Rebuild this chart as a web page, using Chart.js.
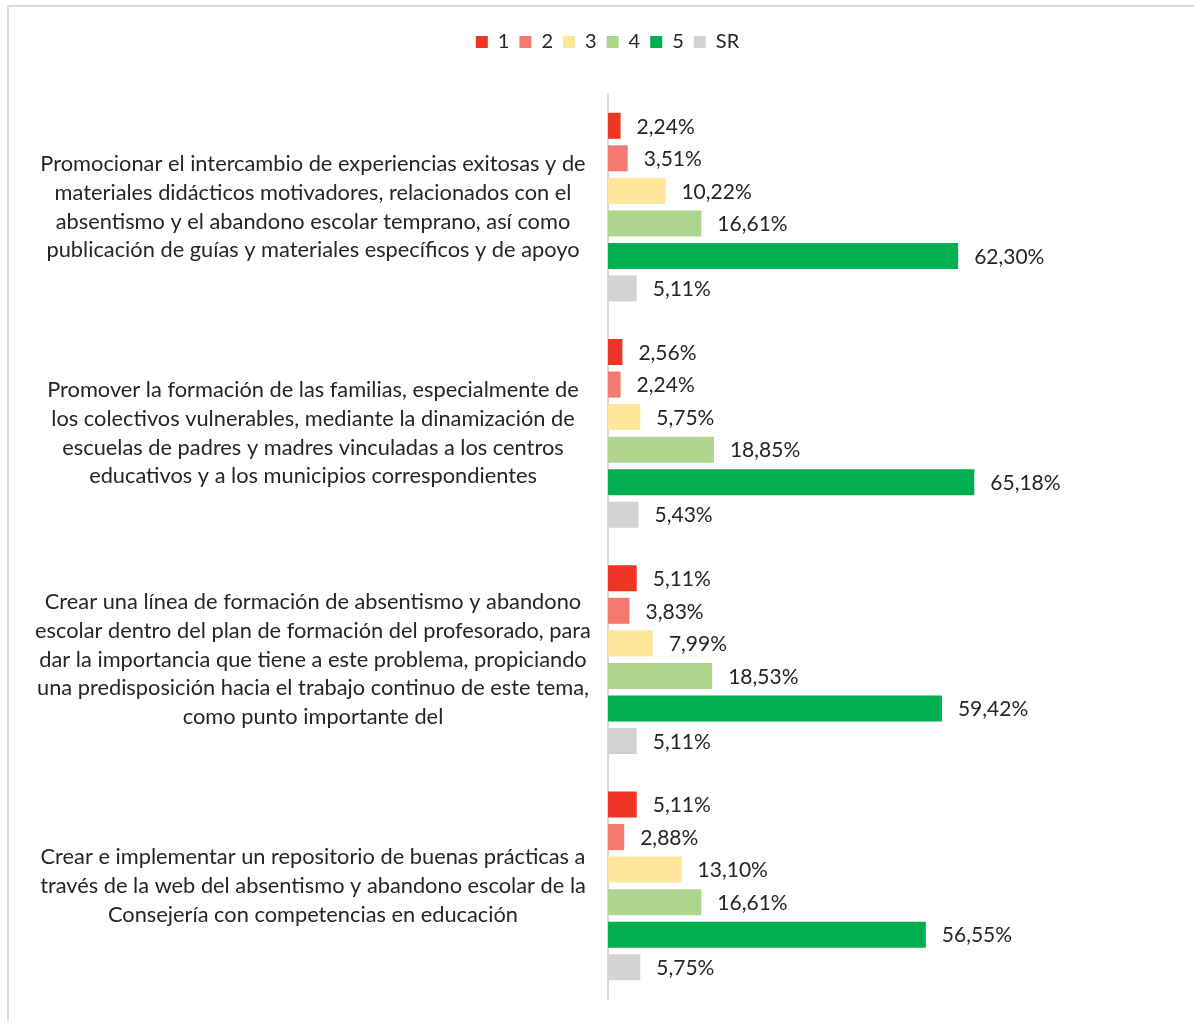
<!DOCTYPE html>
<html>
<head>
<meta charset="utf-8">
<script src="https://cdn.jsdelivr.net/npm/chart.js@4/dist/chart.umd.min.js"></script>
<style>
    html, body { margin: 0; padding: 0; background: #fff; }
    #wrap { position: relative; width: 1194px; height: 1021px; }
    #marco { position: absolute; left: 7px; top: 5px; right: -10px; bottom: -10px; border-left: 2px solid #d9d9d9; border-top: 2px solid #d9d9d9; }
    canvas { position: absolute; left: 0; top: 0; }
</style>
</head>
<body>
<div id="wrap">
    <div id="marco"></div>
    <canvas id="grafico" width="1194" height="1021"></canvas>
</div>
<script>
// --- Datos ---
const categorias = [
    ["Promocionar el intercambio de experiencias exitosas y de", "materiales didácticos motivadores, relacionados con el", "absentismo y el abandono escolar temprano, así como", "publicación de guías y materiales específicos y de apoyo"],
    ["Promover la formación de las familias, especialmente de", "los colectivos vulnerables, mediante la dinamización de", "escuelas de padres y madres vinculadas a los centros", "educativos y a los municipios correspondientes"],
    ["Crear una línea de formación de absentismo y abandono", "escolar dentro del plan de formación del profesorado, para", "dar la importancia que tiene a este problema, propiciando", "una predisposición hacia el trabajo continuo de este tema,", "como punto importante del"],
    ["Crear e implementar un repositorio de buenas prácticas a", "través de la web del absentismo y abandono escolar de la", "Consejería con competencias en educación"]
];
const series = ["1", "2", "3", "4", "5", "SR"];
const valores1 = [2.24, 2.56, 5.11, 5.11];
const valores2 = [3.51, 2.24, 3.83, 2.88];
const valores3 = [10.22, 5.75, 7.99, 13.10];
const valores4 = [16.61, 18.85, 18.53, 16.61];
const valores5 = [62.30, 65.18, 59.42, 56.55];
const valoresSR = [5.11, 5.43, 5.11, 5.75];
const colores = ["#ee3524", "#f47a70", "#ffe699", "#aed58e", "#00b050", "#d4d3d2"];

const fuente = "Lato, 'Open Sans', sans-serif";
const colorTexto = "#262626";

// Etiquetas de categoría (centradas, varias líneas)
const etiquetasEje = {
    id: "etiquetasEje",
    afterDraw(chart) {
        const ctx = chart.ctx;
        const eje = chart.scales.y;
        ctx.save();
        ctx.font = "21.8px " + fuente;
        ctx.fillStyle = colorTexto;
        ctx.textAlign = "center";
        ctx.textBaseline = "middle";
        const alto = 28.7;
        categorias.forEach((lineas, i) => {
            const yc = eje.getPixelForValue(i);
            const y0 = yc - (lineas.length - 1) * alto / 2;
            lineas.forEach((l, j) => ctx.fillText(l, 313, y0 + j * alto));
        });
        ctx.restore();
    }
};

// Valores al final de cada barra
const etiquetasValor = {
    id: "etiquetasValor",
    afterDatasetsDraw(chart) {
        const ctx = chart.ctx;
        ctx.save();
        ctx.font = "21px " + fuente;
        ctx.fillStyle = colorTexto;
        ctx.textAlign = "left";
        ctx.textBaseline = "middle";
        chart.data.datasets.forEach((ds, i) => {
            chart.getDatasetMeta(i).data.forEach((barra, j) => {
                const txt = ds.data[j].toFixed(2).replace(".", ",") + "%";
                ctx.fillText(txt, barra.x + 16, barra.y + 1);
            });
        });
        ctx.restore();
    }
};

// Espacio extra bajo la leyenda y desplazamiento a la derecha
const ajusteLeyenda = {
    id: "ajusteLeyenda",
    beforeInit(chart) {
        const leyenda = chart.legend;
        const fitOriginal = leyenda.fit;
        leyenda.fit = function () {
            fitOriginal.call(this);
            this.height += 32;
        };
        const drawOriginal = leyenda.draw;
        leyenda.draw = function () {
            chart.ctx.save();
            chart.ctx.translate(19, 0);
            drawOriginal.call(this);
            chart.ctx.restore();
        };
    }
};

const listas = [valores1, valores2, valores3, valores4, valores5, valoresSR];

new Chart(document.getElementById("grafico"), {
    type: "bar",
    data: {
        labels: categorias.map(c => c.join(" ")),
        datasets: series.map((s, i) => ({
            label: s,
            data: listas[i],
            backgroundColor: colores[i],
            borderWidth: 0,
            categoryPercentage: 0.863,
            barPercentage: 0.8
        }))
    },
    options: {
        indexAxis: "y",
        responsive: false,
        animation: false,
        layout: { padding: { top: 22, left: 7, right: 24, bottom: 22 } },
        plugins: {
            legend: {
                position: "top",
                labels: {
                    boxWidth: 12,
                    boxHeight: 12,
                    padding: 10,
                    color: colorTexto,
                    font: { family: fuente, size: 20 }
                }
            },
            tooltip: { enabled: false }
        },
        scales: {
            x: {
                display: false,
                min: 0,
                max: 100
            },
            y: {
                grid: { display: false, drawTicks: false },
                border: { display: true, color: "#d9d9d9", width: 2 },
                ticks: { display: false },
                afterFit(eje) { eje.width = 601; }
            }
        }
    },
    plugins: [etiquetasEje, etiquetasValor, ajusteLeyenda]
});
</script>
</body>
</html>
